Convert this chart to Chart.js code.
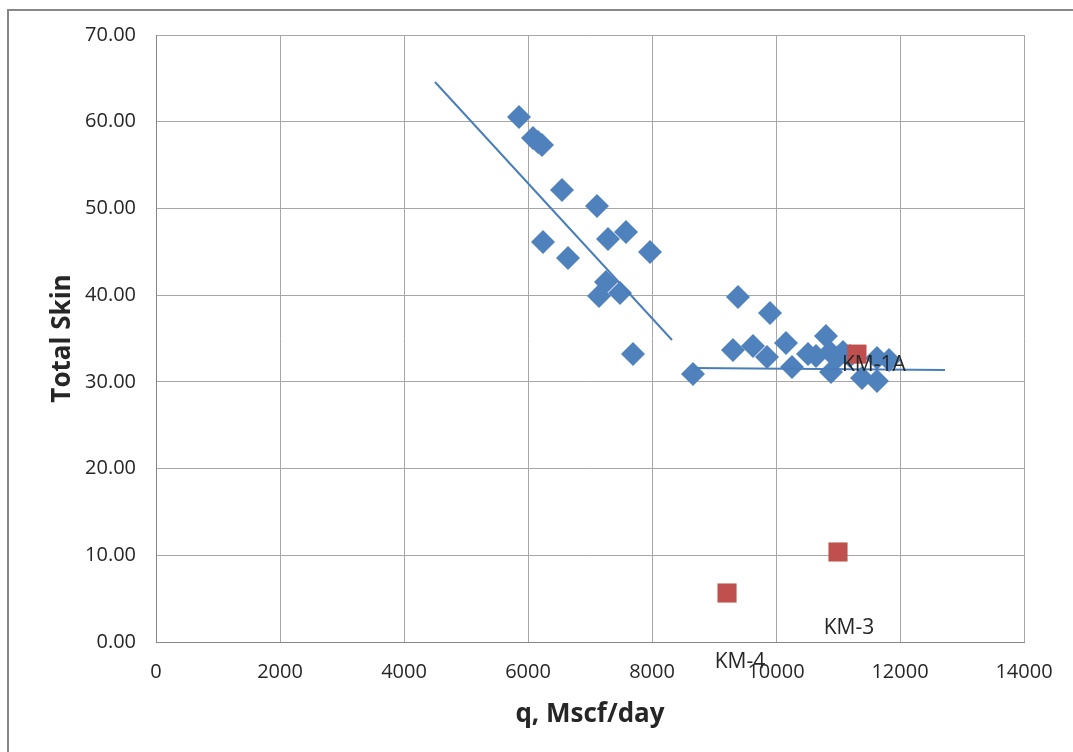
<!DOCTYPE html>
<html>
<head>
<meta charset="utf-8">
<script src="https://cdn.jsdelivr.net/npm/chart.js@4.4.1/dist/chart.umd.min.js"></script>
<style>
  html, body { margin: 0; padding: 0; background: #fff; }
  #wrap { width: 1073px; height: 752px; position: relative; }
</style>
</head>
<body>
<div id="wrap"><canvas id="ch-skin"></canvas></div>
<script>
// Total skin vs gas rate, with two straight trend segments and the KM wells marked.
const wellQ = [5855, 6081, 6161, 6226, 6548, 7113, 7581, 7290, 7968, 6242, 6645, 7258, 7145, 7484, 7694,
  8661, 9387, 9903, 9306, 9629, 9855, 10161, 10258, 10516, 10645, 10806, 10871, 10887, 10984, 11081, 11194, 11387, 11629, 11629, 11823];
const wellSkin = [60.55, 58.12, 57.66, 57.32, 52.13, 50.28, 47.28, 46.48, 44.98, 46.13, 44.29, 41.52, 39.90, 40.25, 33.21,
  30.91, 39.79, 37.94, 33.67, 34.14, 32.87, 34.48, 31.72, 33.22, 32.99, 35.29, 33.44, 31.14, 32.76, 33.44, 32.99, 30.45, 30.10, 32.76, 32.52];

const kmNames = ["KM-1A", "KM-3", "KM-4"];
const kmQ = [11306, 11000, 9210];
const kmSkin = [33.2, 10.38, 5.65];

const trendHighQ = [4500, 8323];
const trendHighSkin = [64.58, 34.83];
const trendLowQ = [8661, 12726];
const trendLowSkin = [31.6, 31.37];

const xTicks = [0, 2000, 4000, 6000, 8000, 10000, 12000, 14000];
const yTicks = [0, 10, 20, 30, 40, 50, 60, 70];

// label shift from each KM point, in pixels
const kmLabelShift = [[-15, 11], [11, 76], [13, 69]];

const BLUE = "#4f81bd", RED = "#c0504d", LINE = "#4a7ebb";
const FONT = "'Open Sans', 'DejaVu Sans', sans-serif";

const pts = (xs, ys) => xs.map((x, i) => ({ x: x, y: ys[i] }));

const frame = {
  id: "frame",
  afterDraw(c) {
    const ctx = c.ctx;
    ctx.save();
    ctx.strokeStyle = "#878787";
    ctx.lineWidth = 2;
    ctx.beginPath();
    ctx.moveTo(8, 760); ctx.lineTo(8, 10); ctx.lineTo(1080, 10);
    ctx.stroke();
    ctx.restore();
  }
};

const kmLabels = {
  id: "kmLabels",
  afterDatasetsDraw(c) {
    const meta = c.getDatasetMeta(0);
    const ctx = c.ctx;
    ctx.save();
    ctx.font = "21px " + FONT;
    ctx.fillStyle = "#262626";
    ctx.textBaseline = "middle";
    meta.data.forEach((p, i) => {
      const s = kmLabelShift[i];
      ctx.textAlign = i === 0 ? "left" : "center";
      ctx.fillText(kmNames[i], p.x + s[0], p.y + s[1]);
    });
    ctx.restore();
  }
};

new Chart(document.getElementById("ch-skin"), {
  type: "scatter",
  data: {
    datasets: [
      { label: "KM", data: pts(kmQ, kmSkin), pointStyle: "rect", pointRadius: 13.5, pointHoverRadius: 13.5,
        backgroundColor: RED, borderColor: RED, borderWidth: 0 },
      { label: "Trend high", type: "line", data: pts(trendHighQ, trendHighSkin), borderColor: LINE, borderWidth: 2,
        pointRadius: 0, fill: false },
      { label: "Trend low", type: "line", data: pts(trendLowQ, trendLowSkin), borderColor: LINE, borderWidth: 2,
        pointRadius: 0, fill: false },
      { label: "Wells", data: pts(wellQ, wellSkin), pointStyle: "rectRot", pointRadius: 12, pointHoverRadius: 12,
        backgroundColor: BLUE, borderColor: BLUE, borderWidth: 0 }
    ]
  },
  options: {
    responsive: true, maintainAspectRatio: false, animation: false,
    layout: { padding: { left: 0, top: 35, right: 49, bottom: 0 } },
    plugins: { legend: { display: false }, tooltip: { enabled: false } },
    scales: {
      x: {
        type: "linear", min: 0, max: 14000,
        afterBuildTicks: (s) => { s.ticks = xTicks.map((v) => ({ value: v })); },
        afterFit: (s) => { s.height = 110; },
        ticks: { padding: 18, color: "#262626", font: { family: FONT, size: 20 }, maxRotation: 0, callback: (v) => String(v) },
        grid: { color: "#a6a6a6", lineWidth: 1, drawTicks: false },
        border: { color: "#868686", width: 1 },
        title: { display: true, text: "q, Mscf/day", color: "#262626", padding: { top: 0, bottom: 22 },
          font: { family: FONT, size: 26, weight: "bold" } }
      },
      y: {
        type: "linear", min: 0, max: 70,
        afterBuildTicks: (s) => { s.ticks = yTicks.map((v) => ({ value: v })); },
        afterFit: (s) => { s.width = 156; },
        ticks: { padding: 20, color: "#262626", font: { family: FONT, size: 20 }, callback: (v) => Number(v).toFixed(2) },
        grid: { color: "#a6a6a6", lineWidth: 1, drawTicks: false },
        border: { color: "#868686", width: 1 },
        title: { display: true, text: "Total Skin", color: "#262626", padding: { top: 47, bottom: 0 },
          font: { family: FONT, size: 26, weight: "bold" } }
      }
    }
  },
  plugins: [frame, kmLabels]
});
</script>
</body>
</html>
